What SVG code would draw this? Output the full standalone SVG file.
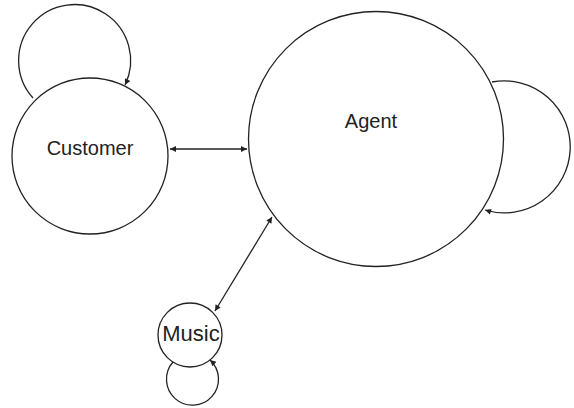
<svg xmlns="http://www.w3.org/2000/svg" width="574" height="408" viewBox="0 0 574 408">
<defs>
<style>
.node{fill:#fff;stroke:#222;stroke-width:1.3}
.lbl{font-family:"Liberation Sans",Arial,sans-serif;font-size:20px;fill:#222;text-anchor:middle}
.edge{fill:none;stroke:#222;stroke-width:1.3}
</style>
<marker id="ah" viewBox="0 0 10 10" refX="10" refY="5" markerWidth="8" markerHeight="6" markerUnits="userSpaceOnUse" orient="auto-start-reverse">
<path d="M0,0 L10,5 L0,10 z" fill="#222"/>
</marker>
</defs>
<rect width="574" height="408" fill="#fff"/>
<g id="connectors">
<path class="edge" d="M33,98 A56,56 0 1 1 125,85" marker-end="url(#ah)"/>
<path class="edge" d="M492,82 A66,66 0 1 1 485,210" marker-end="url(#ah)"/>
<path class="edge" d="M173,362 A26,26 0 1 0 210,360" marker-end="url(#ah)"/>
<line class="edge" x1="170" y1="149" x2="247" y2="149" marker-start="url(#ah)" marker-end="url(#ah)"/>
<line class="edge" x1="215" y1="311" x2="272" y2="217" marker-start="url(#ah)" marker-end="url(#ah)"/>
</g>
<g id="customer">
<circle class="node" cx="90" cy="156" r="78" fill-opacity="0"/>
<text class="lbl" x="90" y="155">Customer</text>
</g>
<g id="agent">
<circle class="node" cx="376" cy="139" r="127.5" fill-opacity="0"/>
<text class="lbl" x="371" y="128">Agent</text>
</g>
<g id="music">
<circle class="node" cx="190" cy="335" r="32" fill-opacity="0"/>
<text class="lbl" x="191" y="341" style="font-size:22px">Music</text>
</g>
</svg>
